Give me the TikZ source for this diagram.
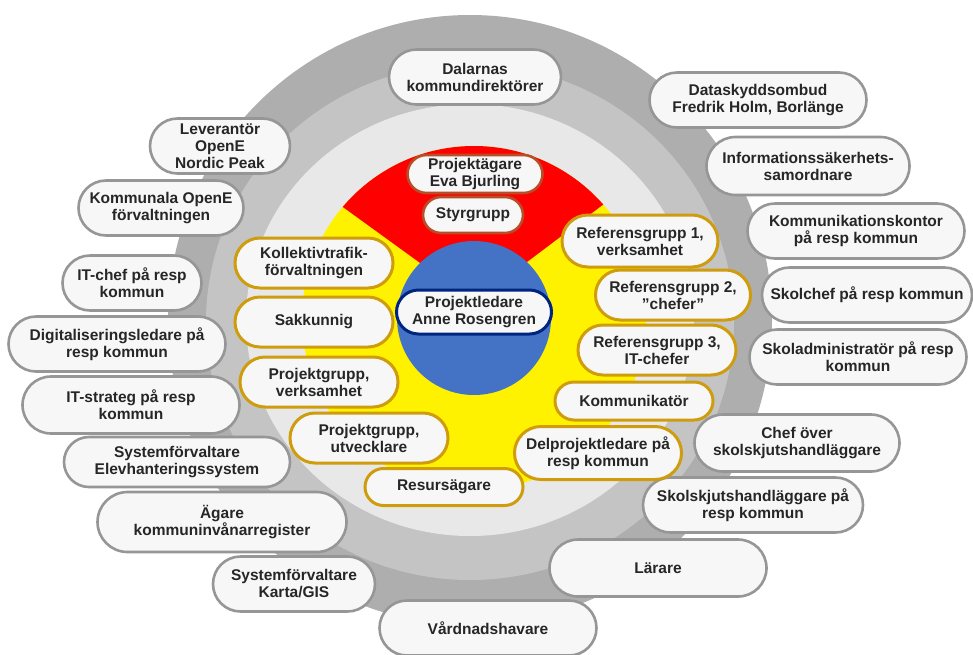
\documentclass[tikz,border=0pt]{standalone}
\usepackage{fontspec}
\setmainfont{Liberation Sans}
\usetikzlibrary{
  shapes.misc  % rounded rectangle
}
\definecolor{ringdark}{RGB}{174,174,174}
\definecolor{ringmid}{RGB}{196,196,196}
\definecolor{ringlight}{RGB}{232,232,232}
\definecolor{boxfill}{RGB}{247,247,247}
\definecolor{boxgrey}{RGB}{150,150,150}
\definecolor{boxgold}{RGB}{206,156,12}
\definecolor{boxred}{RGB}{184,78,40}
\definecolor{boxnavy}{RGB}{0,36,130}
\definecolor{discblue}{RGB}{68,114,196}

\begin{document}
\begin{tikzpicture}[x=1pt, y=-1pt,
    pill/.style={rounded rectangle, fill=boxfill, line width=2.6pt, align=center,
      inner sep=0pt, text=black!85, font=\bfseries\fontsize{15.5}{17}\selectfont,
      minimum width=217pt, minimum height=55pt},
    outerbox/.style={pill, draw=boxgrey},
    goldbox/.style={pill, draw=boxgold, line width=3pt, minimum width=158pt, minimum height=50pt},
    redbox/.style={pill, draw=boxred, minimum height=37pt},
    bluebox/.style={pill, draw=boxnavy, line width=3pt, minimum width=155pt, minimum height=44pt}]
    % centre of the target
    \def\cx{474}
    \def\cy{318}

    \useasboundingbox (0,0) rectangle (973,654);

    % --- grey rings ---
    \fill[ringdark] (470,320) ellipse [x radius=302pt, y radius=305pt];
    \fill[ringmid] (470,322) ellipse [x radius=264pt, y radius=258pt];
    \fill[ringlight] (470,320) ellipse [x radius=224pt, y radius=216pt];

    % --- yellow disc, red sector, blue core ---
    \fill[yellow] (\cx,\cy) circle (172pt);
    \begin{scope}
      \clip (\cx,\cy) circle (172pt);
      \fill[red] (\cx,302) -- (714,121) -- (714,100) -- (231,100) -- (231,126) -- cycle;
    \end{scope}
    \fill[discblue] (\cx,\cy) circle (77pt);

    % --- outer ring ---
    \node[outerbox, minimum width=172pt] (dalarnas) at (475,77) {Dalarnas\\kommundirektörer};
    \node[outerbox] (dataskydd) at (758,100) {Dataskyddsombud\\Fredrik Holm, Borlänge};
    \node[outerbox, minimum width=203pt, minimum height=58pt] (infosak) at (808,166) {Informationssäkerhets-\\samordnare};
    \node[outerbox] (kommkontor) at (856,231) {Kommunikationskontor\\på resp kommun};
    \node[outerbox, minimum width=210pt] (skolchef) at (867,295) {Skolchef på resp kommun};
    \node[outerbox] (skoladmin) at (858,357) {Skoladministratör på resp\\kommun};
    \node[outerbox, minimum width=205pt, minimum height=57pt] (chefskjuts) at (797,443) {Chef över\\skolskjutshandläggare};
    \node[outerbox, minimum width=220pt] (skjuts) at (753,505) {Skolskjutshandläggare på\\resp kommun};
    \node[outerbox, minimum height=57pt] (larare) at (658,568) {Lärare};
    \node[outerbox] (vardnad) at (488,628) {Vårdnadshavare};
    \node[outerbox, minimum width=162pt] (kartagis) at (294,584) {Systemförvaltare\\Karta/GIS};
    \node[outerbox, minimum width=249pt, minimum height=60pt] (agare) at (222,522) {Ägare\\kommuninvånarregister};
    \node[outerbox, minimum width=226pt, minimum height=50pt] (elevsys) at (177,462) {Systemförvaltare\\Elevhanteringssystem};
    \node[outerbox, minimum height=57pt] (itstrateg) at (131,405) {IT-strateg på resp\\kommun};
    \node[outerbox] (digital) at (117,344) {Digitaliseringsledare på\\resp kommun};
    \node[outerbox, minimum width=139pt] (itchef) at (132,283) {IT-chef på resp\\kommun};
    \node[outerbox, minimum width=165pt] (kommopene) at (161,208) {Kommunala OpenE\\förvaltningen};
    \node[outerbox, minimum width=140pt] (leverantor) at (220,146) {Leverantör\\OpenE\\Nordic Peak};

    % --- yellow ring ---
    \node[goldbox] (kollektiv) at (314,263) {Kollektivtrafik-\\förvaltningen};
    \node[goldbox] (sakkunnig) at (314,322) {Sakkunnig};
    \node[goldbox] (pgverk) at (319,382) {Projektgrupp,\\verksamhet};
    \node[goldbox] (pgutv) at (369,438) {Projektgrupp,\\utvecklare};
    \node[goldbox, minimum height=37pt] (resurs) at (444,487) {Resursägare};
    \node[goldbox, minimum width=156pt, minimum height=52pt] (ref1) at (640,241) {Referensgrupp 1,\\verksamhet};
    \node[goldbox, minimum width=155pt] (ref2) at (673,295) {Referensgrupp 2,\\”chefer”};
    \node[goldbox] (ref3) at (657,350) {Referensgrupp 3,\\IT-chefer};
    \node[goldbox, minimum height=38pt] (kommunikator) at (634,401) {Kommunikatör};
    \node[goldbox, minimum width=167pt, minimum height=53pt] (delprojekt) at (598,453) {Delprojektledare på\\resp kommun};

    % --- red sector ---
    \node[redbox, minimum width=135pt, minimum height=38pt] (projagare) at (475,174) {Projektägare\\Eva Bjurling};
    \node[redbox, minimum width=100pt, minimum height=36pt] (styrgrupp) at (473,215) {Styrgrupp};

    % --- core ---
    \node[bluebox] (projledare) at (\cx,312) {Projektledare\\Anne Rosengren};
\end{tikzpicture}
\end{document}
